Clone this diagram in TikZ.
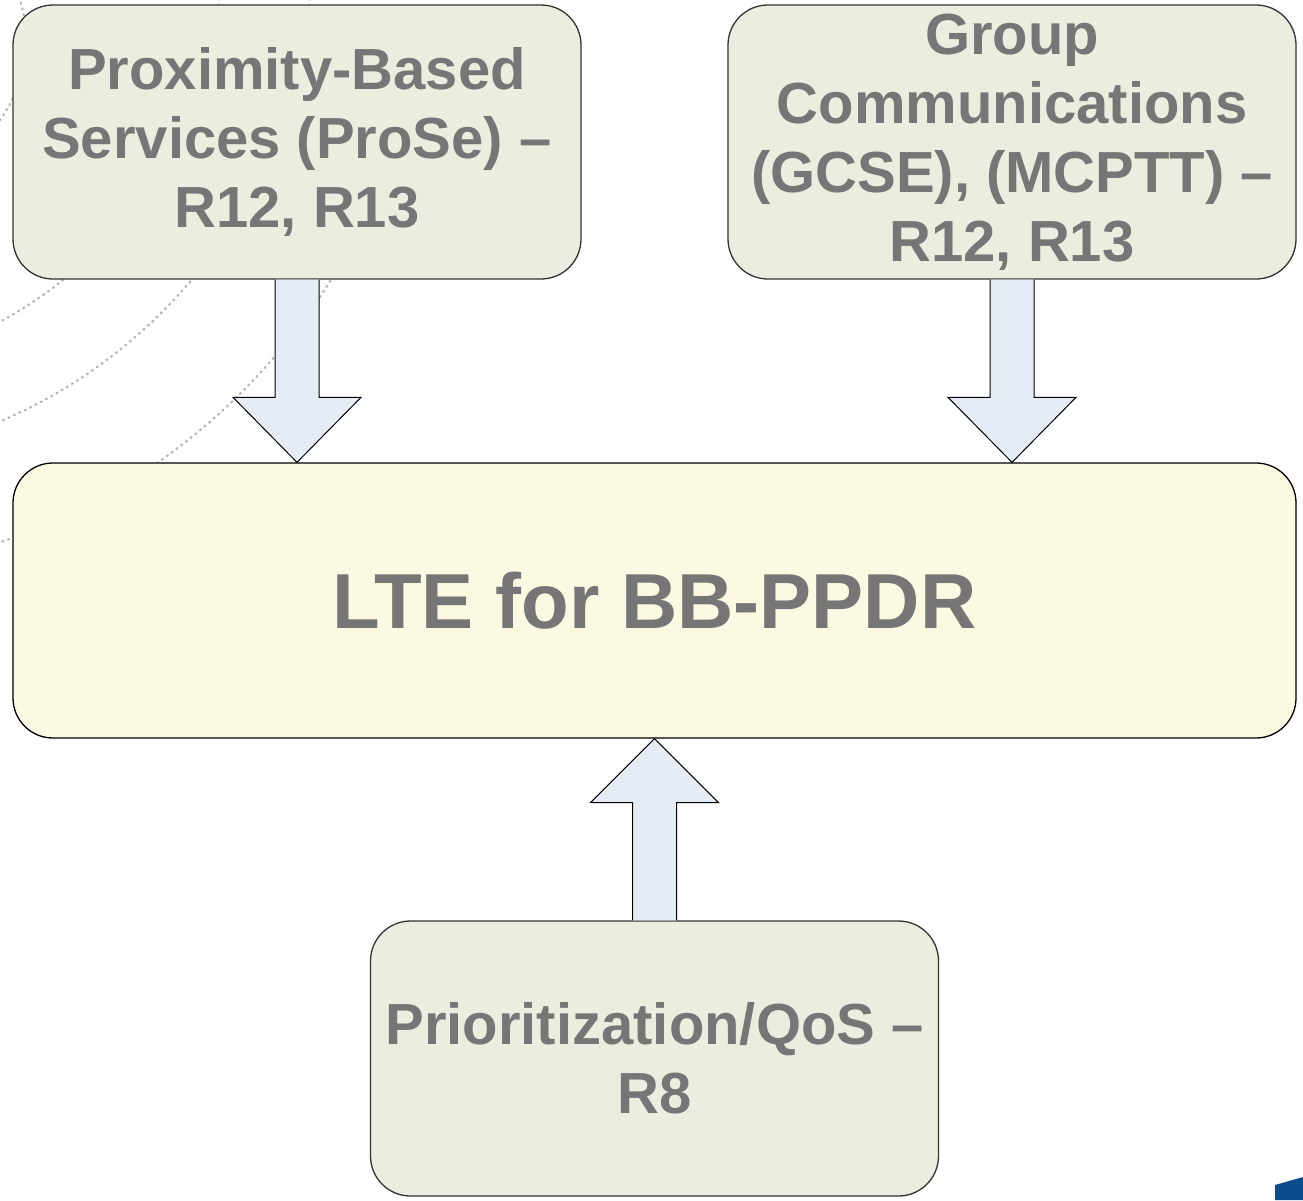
\documentclass[tikz,border=0pt]{standalone}
\usepackage{fontspec}
\setmainfont{Liberation Sans}
\usetikzlibrary{calc}
\definecolor{txtgray}{HTML}{767676}
\definecolor{boxgreen}{HTML}{EBEEDF}
\definecolor{boxyellow}{HTML}{FCF9E2}
\definecolor{arrowblue}{HTML}{E5ECF6}
\definecolor{cornerblue}{HTML}{0B4C8C}
\definecolor{arcgray}{HTML}{B4B4B4}
\tikzset{
  sidebox/.style={draw=black!80, line width=1.3pt, fill=boxgreen, rounded corners=40pt,
    minimum width=568pt, minimum height=274pt, inner sep=0pt, align=center,
    text=txtgray, font=\fontsize{58}{69}\selectfont\bfseries},
  mainbox/.style={draw=black, line width=1.3pt, fill=boxyellow, rounded corners=40pt,
    minimum width=1283pt, minimum height=275pt, inner sep=0pt, align=center,
    text=txtgray, font=\fontsize{78}{90}\selectfont\bfseries},
  blockarrow/.style={draw=black, line width=1pt, fill=arrowblue, line join=miter},
  bgarc/.style={draw=arcgray, line width=2pt, dash pattern=on 2.5pt off 3.5pt},
}
\begin{document}
\begin{tikzpicture}[x=1pt,y=-1pt]
\useasboundingbox (0,0) rectangle (1303,1200);
\fill[white] (0,0) rectangle (1303,1200);
% decorative background arcs
\begin{scope}
\clip (0,0) rectangle (340,1200);
\draw[bgarc] (-200,-50) circle[radius=422];
\draw[bgarc] (-200,-50) circle[radius=512];
\draw[bgarc] (-200,-50) circle[radius=625];
\draw[bgarc] (-110,40) circle[radius=136];
\end{scope}
% corner decoration
\fill[cornerblue] (1275,1185) -- (1303,1177) -- (1303,1200) -- (1275,1200) -- cycle;
% boxes
\node[sidebox] (prose) at (297,142) {Proximity-Based\\Services (ProSe) –\\R12, R13};
\node[sidebox] (gcse) at (1012,142) {Group\\Communications\\(GCSE), (MCPTT) –\\R12, R13};
\node[mainbox] (lte) at (654.5,600.5) {LTE for BB-PPDR};
\node[sidebox, minimum height=275pt] (qos) at (654.5,1058.5) {Prioritization/QoS –\\R8};
% block arrows
\coordinate (t1) at (prose.south |- lte.north);
\draw[blockarrow] ($(prose.south)+(-22,0)$) -- ($(t1)+(-22,-65)$) -- ($(t1)+(-64,-65)$) -- (t1)
  -- ($(t1)+(64,-65)$) -- ($(t1)+(22,-65)$) -- ($(prose.south)+(22,0)$);
\coordinate (t2) at (gcse.south |- lte.north);
\draw[blockarrow] ($(gcse.south)+(-22,0)$) -- ($(t2)+(-22,-65)$) -- ($(t2)+(-64,-65)$) -- (t2)
  -- ($(t2)+(64,-65)$) -- ($(t2)+(22,-65)$) -- ($(gcse.south)+(22,0)$);
\coordinate (t3) at (qos.north |- lte.south);
\draw[blockarrow] ($(qos.north)+(-22,0)$) -- ($(t3)+(-22,64)$) -- ($(t3)+(-64,64)$) -- (t3)
  -- ($(t3)+(64,64)$) -- ($(t3)+(22,64)$) -- ($(qos.north)+(22,0)$);
\end{tikzpicture}
\end{document}
